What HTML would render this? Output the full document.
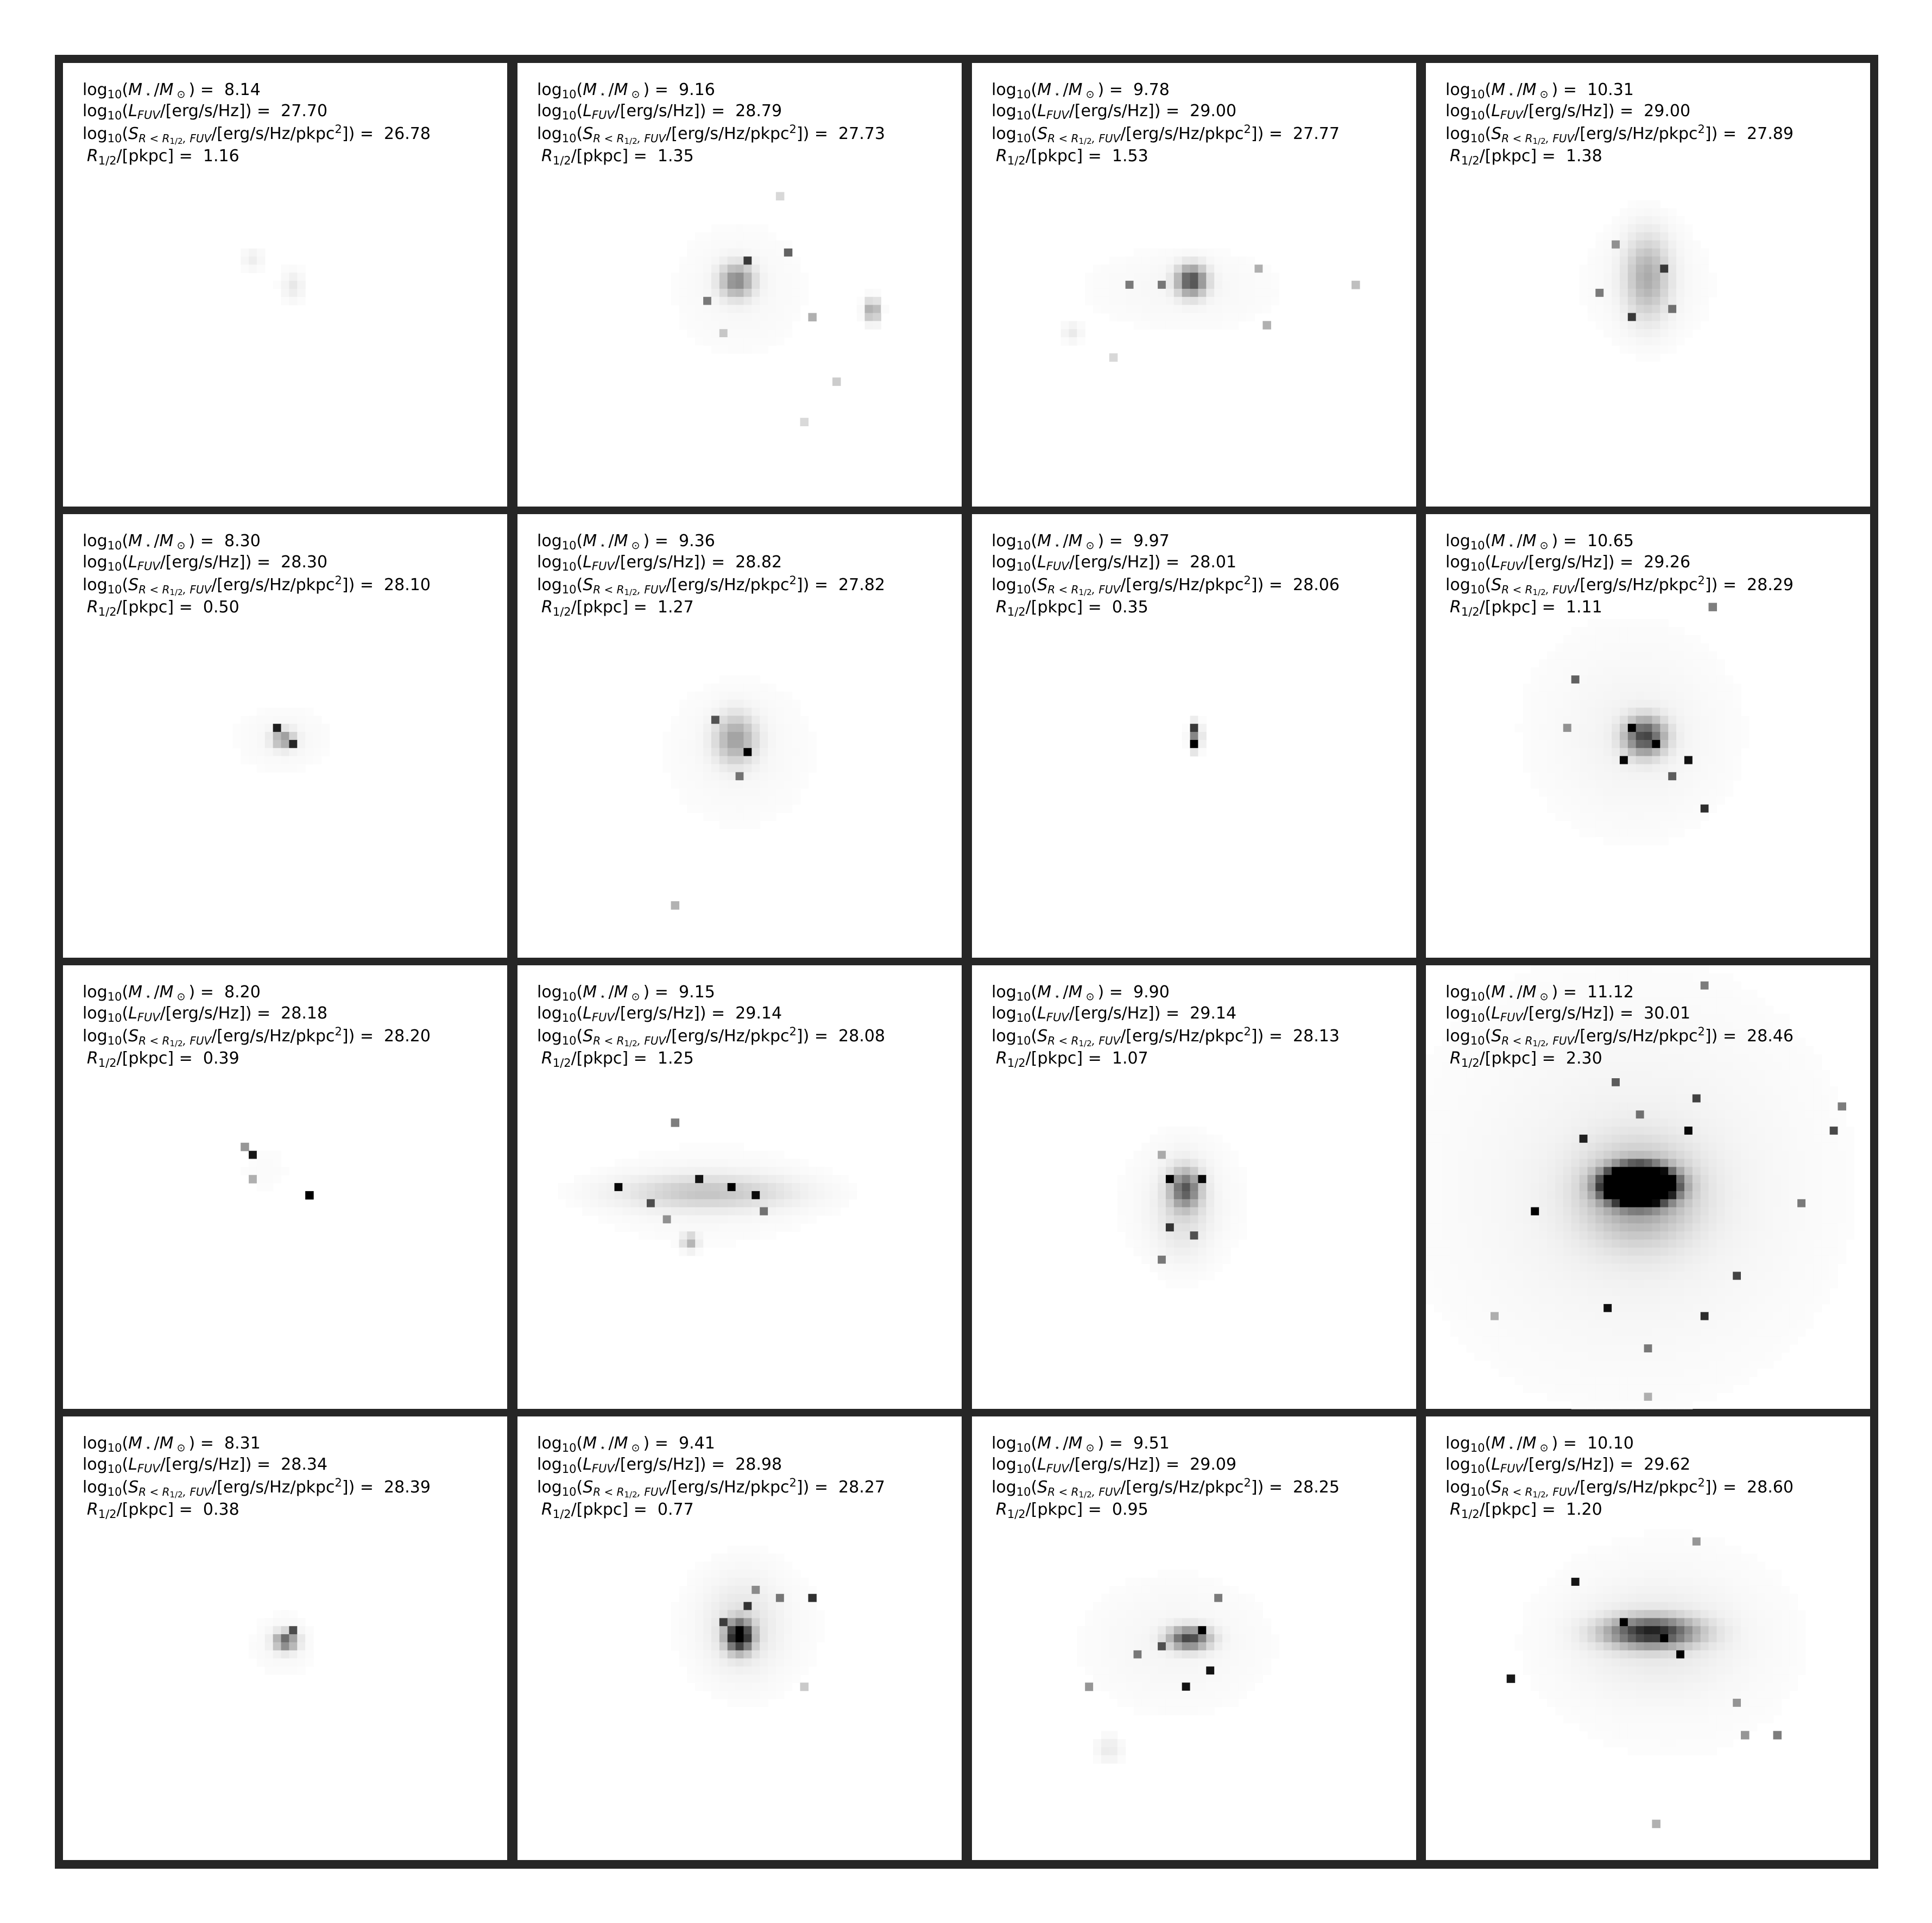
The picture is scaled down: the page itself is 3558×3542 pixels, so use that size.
<!DOCTYPE html>
<html><head><meta charset="utf-8"><style>
html,body{margin:0;padding:0;background:#fff}
svg{display:block}
text{font-family:"DejaVu Sans","Liberation Sans",sans-serif;font-size:30px;fill:#000}
</style></head><body>
<svg id="fig" width="3558" height="3542" viewBox="0 0 3558 3542" xmlns="http://www.w3.org/2000/svg">
<rect x="101" y="101" width="3358" height="3341" fill="#262626"/>
<g id="panels"></g>
</svg>
<script>
const masses=["8.14","9.16","9.78","10.31","8.30","9.36","9.97","10.65","8.20","9.15","9.90","11.12","8.31","9.41","9.51","10.10"];
const lums=["27.70","28.79","29.00","29.00","28.30","28.82","28.01","29.26","28.18","29.14","29.14","30.01","28.34","28.98","29.09","29.62"];
const sbs=["26.78","27.73","27.77","27.89","28.10","27.82","28.06","28.29","28.20","28.08","28.13","28.46","28.39","28.27","28.25","28.60"];
const radii=["1.16","1.35","1.53","1.38","0.50","1.27","0.35","1.11","0.39","1.25","1.07","2.30","0.38","0.77","0.95","1.20"];
// gaussian sources per panel: [x,y,sx,sy,amp] in reference display units
const glows=[
 [[205,210,5,5,0.06],[238,232,5,7,0.08],[220,230,50,50,0.01]],
 [[598,228,9,9,0.45],[600,235,40,40,0.03],[708,252,4,6,0.4]],
 [[967,228,8,8,0.7],[960,235,60,25,0.03],[870,270,5,5,0.08]],
 [[1337,225,12,22,0.3],[1337,230,40,40,0.03]],
 [[230,600,6,5,0.4],[230,600,30,20,0.03]],
 [[597,600,11,13,0.35],[600,610,45,45,0.03]],
 [[970,598,3,7,0.5]],
 [[1335,598,11,10,0.7],[1330,600,45,45,0.04],[1300,560,120,120,0.01]],
 [[215,950,25,25,0.015]],
 [[575,968,45,9,0.2],[575,970,70,30,0.03],[560,1008,4,4,0.3]],
 [[962,965,8,10,0.55],[960,980,15,25,0.12],[960,975,45,45,0.025]],
 [[1330,962,15,8,5],[1330,970,30,26,0.35],[1330,970,80,80,0.05],[1300,940,180,180,0.015]],
 [[232,1332,6,5,0.6],[230,1335,20,20,0.03]],
 [[600,1328,7,8,1.1],[602,1320,20,25,0.1],[610,1320,55,50,0.02]],
 [[965,1330,11,6,0.7],[955,1335,55,40,0.035],[900,1420,7,7,0.08]],
 [[1340,1325,24,8,0.8],[1345,1330,45,30,0.08],[1360,1340,120,120,0.015]]
];
// single bright pixels per panel: [x,y,amp]
const points=[
 [],
 [[610,212,0.7],[640,205,0.6],[575,244,0.5],[660,255,0.3],[585,272,0.2],[636,162,0.15],[680,312,0.2],[655,340,0.15]],
 [[918,232,0.5],[940,232,0.5],[1020,220,0.3],[1097,234,0.25],[1025,262,0.3],[905,292,0.15]],
 [[1310,200,0.4],[1350,215,0.6],[1322,260,0.7],[1355,252,0.5],[1300,240,0.5]],
 [[223,593,0.8],[240,606,0.7]],
 [[580,585,0.6],[610,612,0.8],[598,632,0.5],[548,732,0.3]],
 [[966,590,0.5],[970,602,0.9]],
 [[1277,553,0.6],[1275,588,0.4],[1315,620,0.9],[1355,632,0.6],[1372,618,0.9],[1386,655,0.8],[1390,493,0.5],[1325,590,0.9],[1345,605,0.9]],
 [[205,938,0.9],[253,972,1.0],[208,958,0.3],[198,928,0.4]],
 [[505,962,0.9],[595,965,1.0],[612,972,0.8],[545,908,0.5],[565,955,0.8],[525,975,0.6],[538,990,0.4],[620,985,0.5]],
 [[950,995,0.7],[968,1000,0.6],[942,1020,0.5],[946,935,0.3],[975,955,0.8],[950,960,0.9]],
 [[1244,983,1.0],[1282,926,0.8],[1302,1060,0.9],[1383,1068,0.8],[1412,1037,0.7],[1490,920,0.7],[1465,976,0.5],[1213,1070,0.3],[1310,880,0.6],[1380,890,0.7],[1372,915,0.9],[1330,905,0.5],[1340,1093,0.5],[1385,800,0.5],[1497,900,0.5],[1337,1135,0.3]],
 [[238,1325,0.6]],
 [[606,1305,0.7],[660,1295,0.8],[636,1300,0.5],[590,1318,0.6],[612,1290,0.4],[655,1372,0.2]],
 [[985,1353,0.9],[945,1335,0.6],[925,1345,0.5],[965,1370,0.9],[990,1298,0.5],[884,1367,0.4],[978,1320,0.8]],
 [[1280,1287,0.9],[1228,1360,0.9],[1410,1385,0.4],[1440,1410,0.5],[1380,1250,0.4],[1365,1342,0.9],[1350,1332,0.9],[1320,1315,1.0],[1418,1410,0.4],[1343,1482,0.3]]
];
const S=3558/1568;
const colX=[116,953,1790,2626];
const rowY=[116,947,1778,2609];
const PW=818, PH=817, N=55, cw=PW/N, ch=PH/N;
const svgNS="http://www.w3.org/2000/svg";
const root=document.getElementById('panels');
for(let p=0;p<16;p++){
  const r=Math.floor(p/4), c=p%4;
  const x0=colX[c], y0=rowY[r];
  const g=document.createElementNS(svgNS,'g');
  
  
  const bg=document.createElementNS(svgNS,'rect');
  
  
  bg.setAttribute('x',x0);bg.setAttribute('y',y0);bg.setAttribute('width',PW);bg.setAttribute('height',PH);bg.setAttribute('fill','#fff');
  g.appendChild(bg);
  const I=new Float32Array(N*N);
  for(const s of glows[p]){
    const gx=(s[0]*S-x0)/cw, gy=(s[1]*S-y0)/ch, sx=s[2]*S/cw, sy=s[3]*S/ch;
    for(let j=0;j<N;j++)for(let i=0;i<N;i++){
      const dx=(i+0.5-gx)/sx, dy=(j+0.5-gy)/sy;
      I[j*N+i]+=s[4]*Math.exp(-0.5*(dx*dx+dy*dy));
    }
  }
  for(const q of points[p]){
    const i=Math.floor((q[0]*S-x0)/cw), j=Math.floor((q[1]*S-y0)/ch);
    if(i>=0&&i<N&&j>=0&&j<N) I[j*N+i]+=q[2];
  }
  const img=document.createElementNS(svgNS,'g');
  
  
  for(let j=0;j<N;j++)for(let i=0;i<N;i++){
    const v=Math.min(1,I[j*N+i]);
    if(v<0.012) continue;
    const gv=Math.round(255*(1-v));
    const rc=document.createElementNS(svgNS,'rect');
    
    
    rc.setAttribute('x',(x0+i*cw).toFixed(1));rc.setAttribute('y',(y0+j*ch).toFixed(1));
    rc.setAttribute('width',(cw+0.6).toFixed(1));rc.setAttribute('height',(ch+0.6).toFixed(1));
    rc.setAttribute('fill',`rgb(${gv},${gv},${gv})`);
    img.appendChild(rc);
  }
  g.appendChild(img);
  const tx=x0+36;
  const lab=document.createElementNS(svgNS,'g');
  
  
  lab.innerHTML=
   `<text x="${tx}" y="${y0+59}">log<tspan font-size="21" dy="6">10</tspan><tspan dy="-6">(</tspan><tspan font-style="italic">M</tspan><tspan font-size="17" dy="4"> ⋆ </tspan><tspan dy="-4">/</tspan><tspan font-style="italic">M</tspan><tspan font-size="19" dy="5"> ⊙ </tspan><tspan dy="-5">) =&#160;&#160;${masses[p]}</tspan></text>`+
   `<text x="${tx}" y="${y0+98}">log<tspan font-size="21" dy="6">10</tspan><tspan dy="-6">(</tspan><tspan font-style="italic">L</tspan><tspan font-size="21" font-style="italic" dy="5">FUV</tspan><tspan dy="-5">/[erg/s/Hz]) =&#160;&#160;${lums[p]}</tspan></text>`+
   `<text x="${tx}" y="${y0+140}">log<tspan font-size="21" dy="6">10</tspan><tspan dy="-6">(</tspan><tspan font-style="italic">S</tspan><tspan font-size="20" font-style="italic" dy="6">R &lt; R</tspan><tspan font-size="15" dy="3">1/2</tspan><tspan font-size="20" font-style="italic" dy="-3">, FUV</tspan><tspan dy="-6">/[erg/s/Hz/pkpc</tspan><tspan font-size="21" dy="-11">2</tspan><tspan dy="11">]) =&#160;&#160;${sbs[p]}</tspan></text>`+
   `<text x="${tx+8}" y="${y0+181}"><tspan font-style="italic">R</tspan><tspan font-size="21" dy="6">1/2</tspan><tspan dy="-6">/[pkpc] =&#160;&#160;${radii[p]}</tspan></text>`;
  g.appendChild(lab);
  root.appendChild(g);
}
</script>
</body></html>
